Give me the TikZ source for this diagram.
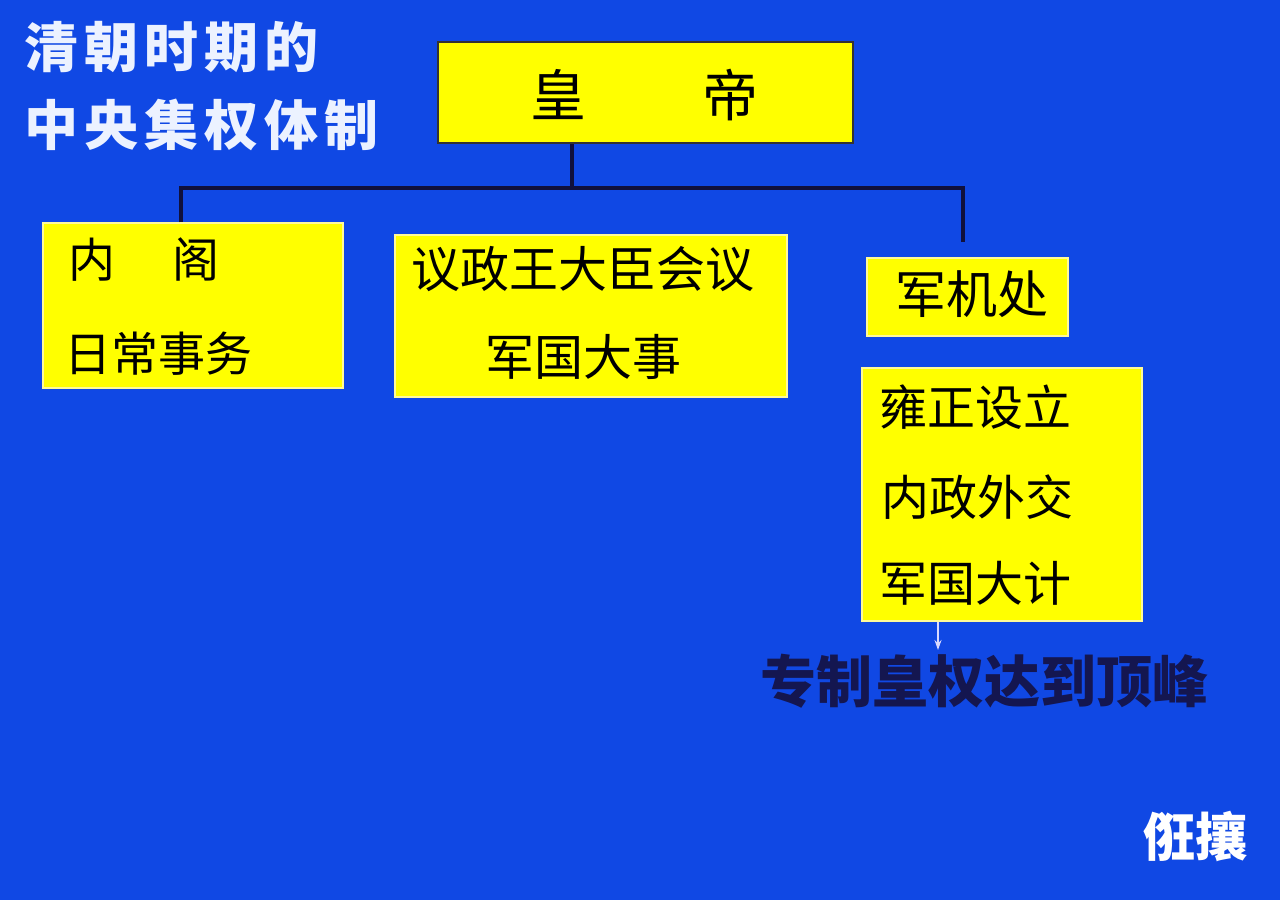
\documentclass[tikz,border=0pt]{standalone}
\usepackage{fontspec}
\setmainfont{Noto Sans CJK SC}
\newfontfamily\cjk{Noto Sans CJK SC}
\usetikzlibrary{arrows.meta}
\definecolor{bgblue}{RGB}{16,72,228}
\definecolor{boxyellow}{RGB}{255,255,0}
\definecolor{navy}{RGB}{16,16,60}
\definecolor{concl}{RGB}{20,22,80}
\definecolor{titlewhite}{RGB}{236,242,255}
\newcommand\fsz[1]{\fontsize{#1}{#1}\selectfont}
\tikzset{
  box/.style={draw=#1, line width=1.5pt, fill=boxyellow, inner sep=0pt, minimum width=0pt},
  boxtext/.style={inner sep=0pt, text=black, anchor=center},
  link/.style={draw=navy, line width=3.6pt},
}
\begin{document}
\begin{tikzpicture}[x=1pt,y=-1pt]
\fill[bgblue] (0,0) rectangle (1280,900);
\useasboundingbox (0,0) rectangle (1280,900);
% title
\node[anchor=west, inner sep=0pt, text=titlewhite] (t1) at (24,47) {\fsz{54}\cjk\bfseries 清\kern6pt 朝\kern6pt 时\kern6pt 期\kern6pt 的};
\node[anchor=west, inner sep=0pt, text=titlewhite] (t2) at (24,125) {\fsz{54}\cjk\bfseries 中\kern6pt 央\kern6pt 集\kern6pt 权\kern6pt 体\kern6pt 制};
% boxes
\node[box=black!80, minimum width=415pt, minimum height=101pt] (emp) at (645.5,92.5) {};
\node[box=yellow!40!white, minimum width=300pt, minimum height=165pt] (nei) at (193,305.5) {};
\node[box=yellow!40!white, minimum width=392pt, minimum height=162pt] (yi) at (591,316) {};
\node[box=yellow!40!white, minimum width=201pt, minimum height=78pt] (jun) at (967.5,297) {};
\node[box=yellow!40!white, minimum width=280pt, minimum height=253pt] (det) at (1002,494.5) {};
% texts
\node[boxtext] (empt) at (644.5,95.5) {\fsz{56}皇\hspace{117pt}帝};
\node[boxtext] (neit1) at (144,260) {\fsz{47}内\hspace{57pt}阁};
\node[boxtext] (neit2) at (158.5,353.5) {\fsz{47}日常事务};
\node[boxtext] (yit1) at (582.5,269.5) {\fsz{49}议政王大臣会议};
\node[boxtext] (yit2) at (583.5,357) {\fsz{49}军国大事};
\node[boxtext] (junt) at (971.5,294.5) {\fsz{51}军机处};
\node[boxtext] (dett1) at (975,407) {\fsz{48}雍正设立};
\node[boxtext] (dett2) at (977,497) {\fsz{48}内政外交};
\node[boxtext] (dett3) at (975,583) {\fsz{48}军国大计};
% connectors
\coordinate (jc) at (572,188);
\coordinate (jl) at (181,188);
\coordinate (jr) at (963,188);
\coordinate (rend) at (963,242);
\draw[link] (jc |- emp.south) -- (jc);
\draw[link] (jl |- nei.north) -- (jl) -- (jr) -- (rend);
\coordinate (aend) at (938,650);
\draw[draw=white!85!blue, line width=1.6pt, -{Stealth[length=10pt,width=7pt]}] (aend |- det.south) -- (aend);
% conclusion
\node[inner sep=0pt, text=concl] (conclt) at (984,681) {\fsz{56}\bfseries 专制皇权达到顶峰};
% watermark
\node[inner sep=0pt, text=white] (wm) at (1195,836) {\fsz{52}\bfseries 俇攘};
\end{tikzpicture}
\end{document}
